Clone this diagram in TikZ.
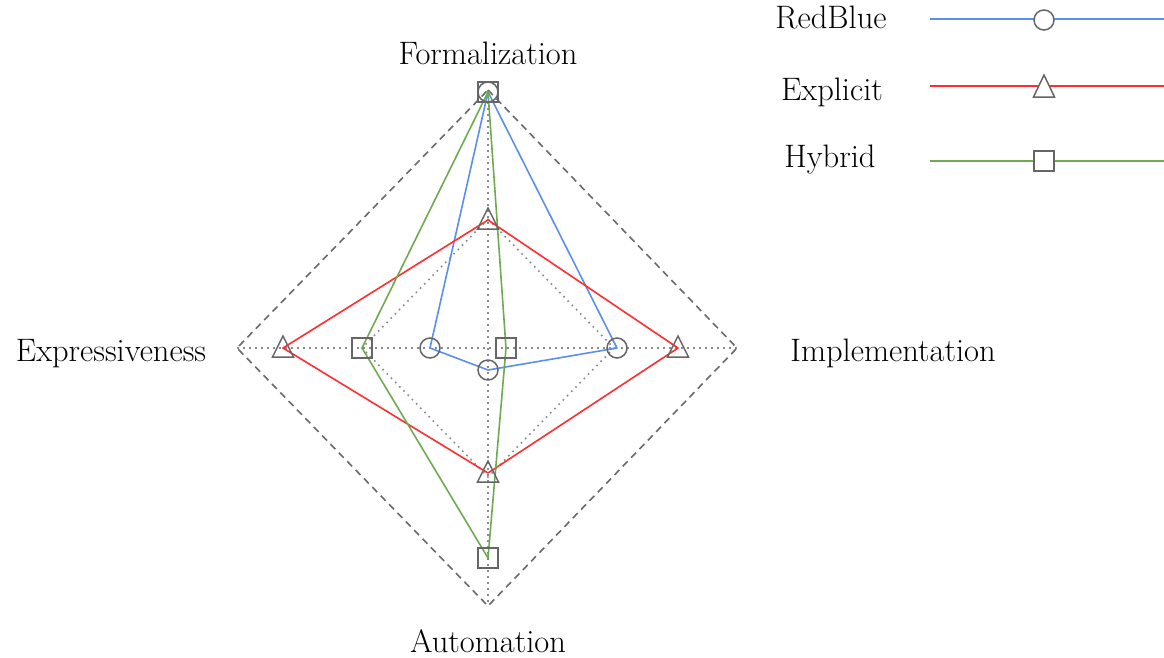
\documentclass[tikz,border=0pt]{standalone}
\usetikzlibrary{shapes.geometric}
\definecolor{rbblue}{HTML}{5B8FEF}
\definecolor{exred}{HTML}{FF2E2E}
\definecolor{hygreen}{HTML}{6FAA50}
\definecolor{mkgray}{HTML}{666666}
\definecolor{dashgray}{HTML}{6A6A6A}
\definecolor{dotgray}{HTML}{8A8A8A}
\begin{document}
\begin{tikzpicture}[x=1pt,y=-1pt,
  lbl/.style={font=\fontsize{32.5}{38}\selectfont, inner sep=0pt, anchor=base},
  outerline/.style={draw=dashgray, line width=1.6pt, dash pattern=on 7pt off 5pt},
  gridline/.style={draw=dotgray, line width=1.6pt, dash pattern=on 1.6pt off 4.4pt},
  series/.style={line width=1.6pt, line join=round},
  mk/.style={draw=mkgray, line width=1.5pt, inner sep=0pt, outer sep=0pt},
  circmark/.style={mk, circle, minimum size=20pt},
  sqmark/.style={mk, rectangle, minimum size=20pt},
  trimark/.pic={\draw[mk, line join=miter] (-10.5,9) -- (10.5,9) -- (0,-12) -- cycle;},
  legtri/.pic={\draw[mk, fill=white, line join=miter] (-10.5,11) -- (10.5,11) -- (0,-11) -- cycle;},
]
\useasboundingbox (0,0) rectangle (1164,657);

% axes geometry
\coordinate (c) at (488,348);
\coordinate (oT) at (488,90);
\coordinate (oR) at (737,348);
\coordinate (oB) at (488,606);
\coordinate (oL) at (237,348);
\coordinate (iT) at (488,219);
\coordinate (iR) at (614,348);
\coordinate (iB) at (488,477);
\coordinate (iL) at (362,348);

\draw[gridline] (oL) -- (oR);
\draw[gridline] (oT) -- (oB);
\draw[gridline] (iT) -- (iR) -- (iB) -- (iL) -- cycle;
\draw[outerline] (oT) -- (oR) -- (oB) -- (oL) -- cycle;

% axis labels
\node[lbl] (lab-f) at (488,64) {Formalization};
\node[lbl] (lab-e) at (111,361) {Expressiveness};
\node[lbl] (lab-i) at (893,361) {Implementation};
\node[lbl] (lab-a) at (488,652) {Automation};

% data
\coordinate (rbT) at (488,92);
\coordinate (rbR) at (617,348);
\coordinate (rbB) at (488,370);
\coordinate (rbL) at (430,348);
\coordinate (exT) at (488,220);
\coordinate (exR) at (678,348);
\coordinate (exB) at (488,473);
\coordinate (exL) at (283,348);
\coordinate (hyT) at (488,92);
\coordinate (hyR) at (506,348);
\coordinate (hyB) at (488,558);
\coordinate (hyL) at (362,348);

\draw[series, rbblue] (rbT) -- (rbR) -- (rbB) -- (rbL) -- cycle;
\draw[series, exred] (exT) -- (exR) -- (exB) -- (exL) -- cycle;
\draw[series, hygreen] (hyT) -- (hyR) -- (hyB) -- (hyL) -- cycle;

\foreach \p in {T,R,B,L} {
  \node[circmark] (m-rb\p) at (rb\p) {};
  \pic (m-ex\p) at (ex\p) {trimark};
  \node[sqmark] (m-hy\p) at (hy\p) {};
}

% legend
\node[lbl] (lg-rb) at (831,28) {RedBlue};
\node[lbl] (lg-ex) at (832,100) {Explicit};
\node[lbl] (lg-hy) at (830,167) {Hybrid};

\coordinate (lrb-a) at (930,19);
\coordinate (lrb-b) at (1164,19);
\coordinate (lex-a) at (930,86);
\coordinate (lex-b) at (1164,86);
\coordinate (lhy-a) at (930,161);
\coordinate (lhy-b) at (1164,161);
\draw[series, rbblue] (lrb-a) -- (lrb-b);
\draw[series, exred] (lex-a) -- (lex-b);
\draw[series, hygreen] (lhy-a) -- (lhy-b);

\node[circmark, fill=white] (lm-rb) at (1044,20) {};
\pic (lm-ex) at (1044,86) {legtri};
\node[sqmark, fill=white] (lm-hy) at (1044,161) {};
\end{tikzpicture}
\end{document}
